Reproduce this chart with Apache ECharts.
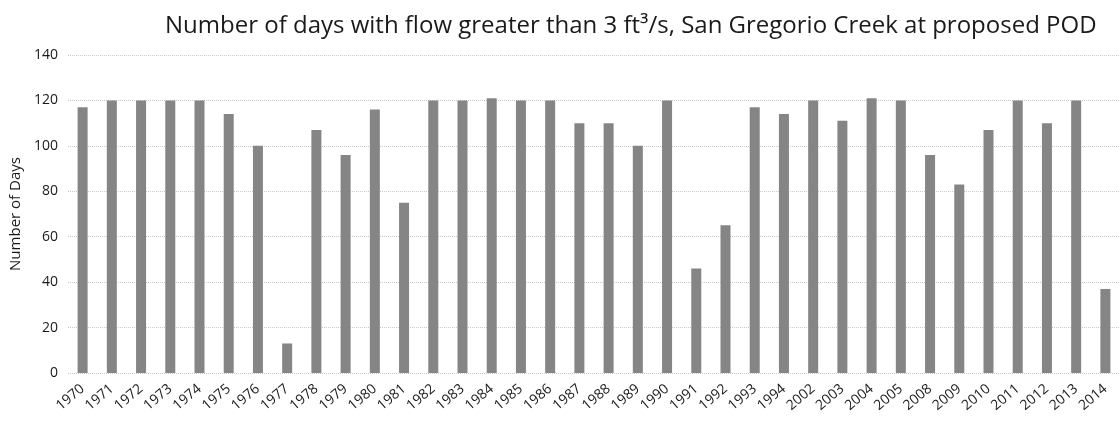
<!DOCTYPE html>
<html>
<head>
<meta charset="utf-8">
<script src="https://cdn.jsdelivr.net/npm/echarts@6/dist/echarts.min.js"></script>
<style>
html,body{margin:0;padding:0;background:#fff;}
#chart{width:1120px;height:437px;}
</style>
</head>
<body>
<div id="chart"></div>
<script>
const titleText = 'Number of days with flow greater than 3 ft\u00B3/s, San Gregorio Creek at proposed POD';
const yAxisName = 'Number of Days';
const years = ['1970','1971','1972','1973','1974','1975','1976','1977','1978','1979','1980','1981','1982','1983','1984','1985','1986','1987','1988','1989','1990','1991','1992','1993','1994','2002','2003','2004','2005','2008','2009','2010','2011','2012','2013','2014'];
const days = [117,120,120,120,120,114,100,13,107,96,116,75,120,120,121,120,120,110,110,100,120,46,65,117,114,120,111,121,120,96,83,107,120,110,120,37];
const yTicks = [0,20,40,60,80,100,120,140];

const chart = echarts.init(document.getElementById('chart'));
chart.setOption({
  animation: false,
  backgroundColor: '#ffffff',
  title: {
    text: titleText,
    left: 160,
    top: 9,
    textStyle: {fontFamily: 'Open Sans', fontSize: 24, fontWeight: 'normal', color: '#1a1a1a'}
  },
  grid: {left: 68, right: -12, top: 55, bottom: 64, containLabel: false},
  xAxis: {
    type: 'category',
    data: years,
    axisLine: {show: false},
    axisTick: {show: false},
    axisLabel: {rotate: 40, fontFamily: 'Open Sans', fontSize: 14, color: '#1a1a1a', margin: 14, interval: 0}
  },
  yAxis: {
    type: 'value',
    min: yTicks[0],
    max: yTicks[yTicks.length - 1],
    interval: 20,
    name: yAxisName,
    nameLocation: 'middle',
    nameGap: 42,
    nameTextStyle: {fontFamily: 'Open Sans', fontSize: 15, color: '#1a1a1a'},
    axisLine: {show: false},
    axisTick: {show: false},
    axisLabel: {fontFamily: 'Open Sans', fontSize: 14, color: '#1a1a1a', margin: 10},
    splitLine: {show: true, lineStyle: {color: '#c8c8c8', type: 'dotted', width: 1}}
  },
  series: [{
    type: 'bar',
    data: days,
    barWidth: 10,
    itemStyle: {color: '#858585'}
  }]
});
</script>
</body>
</html>
